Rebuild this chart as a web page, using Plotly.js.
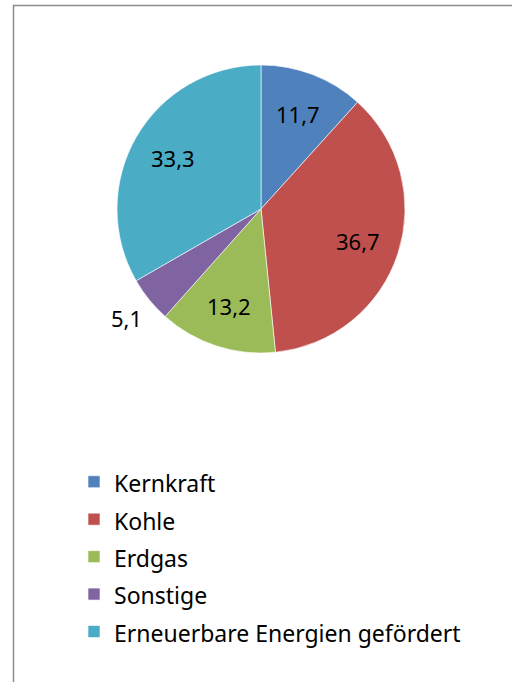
<!DOCTYPE html>
<html>
<head>
<meta charset="utf-8">
<script src="https://cdn.plot.ly/plotly-3.0.1.min.js"></script>
<style>html,body{margin:0;padding:0;background:#fff;}#chart{width:512px;height:682px;}</style>
</head>
<body>
<div id="chart"></div>
<script>
const categories = ['Kernkraft', 'Kohle', 'Erdgas', 'Sonstige', 'Erneuerbare Energien gefördert'];
const shares = [11.7, 36.7, 13.2, 5.1, 33.3];
const colors = ['#4F81BD', '#C0504D', '#9BBB59', '#8064A2', '#4BACC6'];
const labelPositions = ['inside', 'inside', 'inside', 'outside', 'inside'];

const W = 512, H = 682;
const cx = 261, cy = 209, r = 144;
const FONT = 'Noto Sans, sans-serif';

// legend rows: larger legend font sets row spacing, span sets visible text size
const legendLabels = categories.map(c => '<span style="font-size:23px">' + c + '</span>');

const trace = {
  type: 'pie',
  labels: legendLabels,
  values: shares,
  textinfo: 'none',
  hoverinfo: 'value',
  sort: false,
  direction: 'clockwise',
  rotation: 0,
  marker: { colors: colors, line: { color: '#ffffff', width: 0.6 } },
  automargin: false,
  domain: { x: [(cx - r) / W, (cx + r) / W], y: [(H - cy - r) / H, (H - cy + r) / H] }
};

// data labels placed from the cumulative shares (Excel-like label radius)
const total = shares.reduce((a, b) => a + b, 0);
let cum = 0;
const annotations = shares.map((v, i) => {
  const mid = (cum + v / 2) / total * 2 * Math.PI;
  cum += v;
  const rho = labelPositions[i] === 'inside' ? 0.71 : 1.2;
  const px = cx + rho * r * Math.sin(mid);
  const py = cy - rho * r * Math.cos(mid);
  return {
    xref: 'paper', yref: 'paper',
    x: px / W, y: 1 - py / H,
    xanchor: 'center', yanchor: 'middle',
    text: v.toFixed(1).replace('.', ','),
    showarrow: false,
    font: { family: FONT, size: 22, color: '#000000' }
  };
});

const layout = {
  width: W, height: H,
  margin: { l: 0, r: 0, t: 0, b: 0 },
  paper_bgcolor: '#ffffff',
  showlegend: true,
  legend: {
    x: 74 / W, xanchor: 'left',
    y: 1 - 458 / H, yanchor: 'top',
    font: { family: FONT, size: 26.5, color: '#000000' },
    bgcolor: 'rgba(0,0,0,0)',
    traceorder: 'normal',
    valign: 'middle'
  },
  annotations: annotations,
  shapes: [{
    type: 'rect', xref: 'paper', yref: 'paper',
    x0: 13.5 / W, x1: 1.2, y0: -0.2, y1: 1 - 5.5 / H,
    line: { color: '#8c8c8c', width: 1.5 }, fillcolor: 'rgba(0,0,0,0)'
  }]
};

Plotly.newPlot('chart', [trace], layout, { displayModeBar: false, staticPlot: true });
</script>
</body>
</html>
